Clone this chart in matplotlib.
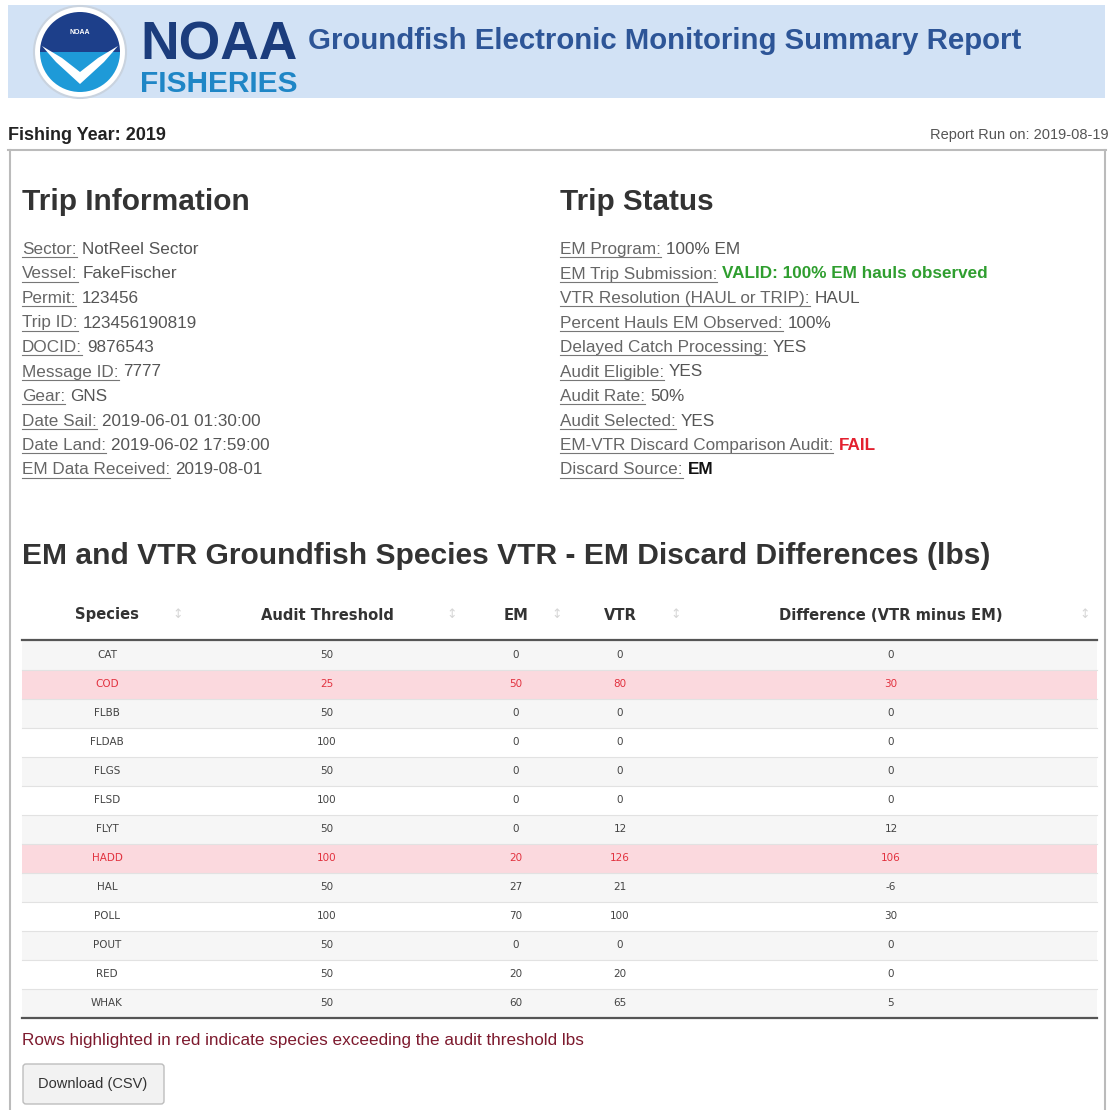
import matplotlib.pyplot as plt
from matplotlib.patches import Rectangle, Circle, Wedge, FancyBboxPatch, Polygon

species = ['CAT', 'COD', 'FLBB', 'FLDAB', 'FLGS', 'FLSD', 'FLYT', 'HADD', 'HAL', 'POLL', 'POUT', 'RED', 'WHAK']
audit_threshold = [50, 25, 50, 100, 50, 100, 50, 100, 50, 100, 50, 50, 50]
em_discards = [0, 50, 0, 0, 0, 0, 0, 20, 27, 70, 0, 20, 60]
vtr_discards = [0, 80, 0, 0, 0, 0, 12, 126, 21, 100, 0, 20, 65]
difference = [0, 30, 0, 0, 0, 0, 12, 106, -6, 30, 0, 0, 5]

table_columns = ['Species', 'Audit Threshold', 'EM', 'VTR', 'Difference (VTR minus EM)']

trip_info_labels = ['Sector:', 'Vessel:', 'Permit:', 'Trip ID:', 'DOCID:', 'Message ID:', 'Gear:',
                    'Date Sail:', 'Date Land:', 'EM Data Received:']
trip_info_values = ['NotReel Sector', 'FakeFischer', '123456', '123456190819', '9876543', '7777', 'GNS',
                    '2019-06-01 01:30:00', '2019-06-02 17:59:00', '2019-08-01']

status_labels = ['EM Program:', 'EM Trip Submission:', 'VTR Resolution (HAUL or TRIP):',
                 'Percent Hauls EM Observed:', 'Delayed Catch Processing:', 'Audit Eligible:',
                 'Audit Rate:', 'Audit Selected:', 'EM-VTR Discard Comparison Audit:', 'Discard Source:']
status_values = ['100% EM', 'VALID: 100% EM hauls observed', 'HAUL', '100%', 'YES', 'YES',
                 '50%', 'YES', 'FAIL', 'EM']

fishing_year = 2019
report_run = '2019-08-19'

SANS = ['Liberation Sans', 'DejaVu Sans']
GRAY = '#555555'

fig = plt.figure(figsize=(11.1, 11.1), dpi=100)
ax = fig.add_axes([0, 0, 1, 1])
ax.set_xlim(0, 1110)
ax.set_ylim(1110, 0)
ax.axis('off')
renderer = fig.canvas.get_renderer()


def text_width(t):
    bb = t.get_window_extent(renderer=renderer)
    return bb.width


def fit_text(x, y, s, width, **kw):
    t = ax.text(x, y, s, **kw)
    w = text_width(t)
    t.set_fontsize(t.get_fontsize() * width / w)
    return t


# header band and logo
ax.add_patch(Rectangle((8, 5), 1097, 93, facecolor='#d2e2f5', edgecolor='none'))
ax.add_patch(Circle((80, 52), 46, facecolor='#ffffff', edgecolor='#c9d3df', lw=1.5))
ax.add_patch(Wedge((80, 52), 40, 180, 360, facecolor='#1d3f8a', edgecolor='none'))
ax.add_patch(Wedge((80, 52), 40, 0, 180, facecolor='#1e9ad8', edgecolor='none'))
ax.add_patch(Polygon([[42, 46], [62, 58], [80, 72], [98, 58], [118, 46], [104, 62], [80, 84], [56, 62]],
                     closed=True, facecolor='white', edgecolor='none'))
ax.text(80, 33, 'NOAA', color='white', fontsize=5, fontweight='bold', ha='center', va='center', family=SANS)

fit_text(140, 60, 'NOAA', 157, color='#1b3c7c', fontsize=40, fontweight='bold', va='baseline', family=SANS)
fit_text(140, 92, 'FISHERIES', 157, color='#1f86c6', fontsize=30, fontweight='bold', va='baseline', family=SANS)
fit_text(308, 49, 'Groundfish Electronic Monitoring Summary Report', 712, color='#2d5597',
         fontsize=20, fontweight='bold', va='baseline', family=SANS)

ax.text(8, 135, 'Fishing Year: %d' % fishing_year, fontsize=13, fontweight='bold', color='#222222',
        va='center', family=SANS)
ax.text(1109, 135, 'Report Run on: %s' % report_run, fontsize=10.5, color=GRAY, ha='right', va='center',
        family=SANS)

# content box
ax.plot([8, 1106], [150, 150], color='#bbbbbb', lw=1.5)
ax.plot([10, 10], [150, 1110], color='#bbbbbb', lw=1.5)
ax.plot([1105, 1105], [150, 1110], color='#bbbbbb', lw=1.5)

fit_text(22, 210, 'Trip Information', 227, fontsize=21, fontweight='bold', color='#333333',
         va='baseline', family=SANS)
fit_text(560, 210, 'Trip Status', 153, fontsize=21, fontweight='bold', color='#333333',
         va='baseline', family=SANS)


def info_line(x, y, label, value, color=GRAY, weight='normal'):
    t = ax.text(x, y, label, fontsize=12.3, color='#666666', va='baseline', family=SANS)
    w = text_width(t)
    ax.plot([x, x + w], [y + 3, y + 3], color='#777777', lw=0.8)
    ax.text(x + w + 5, y, value, fontsize=12.3, color=color, fontweight=weight, va='baseline', family=SANS)


row_y = [254 + 24.5 * i for i in range(len(trip_info_labels))]
for i, (lab, val) in enumerate(zip(trip_info_labels, trip_info_values)):
    info_line(22, row_y[i], lab, val)

status_colors = {'VALID: 100% EM hauls observed': '#2f9e2f', 'FAIL': '#e3202f', 'EM': '#111111'}
for i, (lab, val) in enumerate(zip(status_labels, status_values)):
    c = status_colors.get(val, GRAY)
    wt = 'bold' if val in status_colors else 'normal'
    info_line(560, row_y[i], lab, val, color=c, weight=wt)

fit_text(22, 564, 'EM and VTR Groundfish Species VTR - EM Discard Differences (lbs)', 968,
         fontsize=21, fontweight='bold', color='#333333', va='baseline', family=SANS)

# table
col_x = [107, 327, 516, 620, 891]
sort_x = [178, 452, 557, 676, 1085]
for name, cx, sx in zip(table_columns, col_x, sort_x):
    ax.text(cx, 615, name, fontsize=10.6, fontweight='bold', color='#333333', ha='center', va='center',
            family='DejaVu Sans')
    ax.text(sx, 615, '\u2195', fontsize=9, color='#d6d6d6', ha='center', va='center', family='DejaVu Sans')
ax.plot([22, 1097], [640, 640], color='#555555', lw=1.6)

row_h = 29
for i, sp in enumerate(species):
    cy = 655 + i * row_h
    flagged = abs(difference[i]) > audit_threshold[i]
    if flagged:
        bg = '#fbd9de'
    elif i % 2 == 0:
        bg = '#f6f6f6'
    else:
        bg = '#ffffff'
    ax.add_patch(Rectangle((22, cy - row_h / 2), 1075, row_h, facecolor=bg, edgecolor='none'))
    if i > 0:
        ax.plot([22, 1097], [cy - row_h / 2, cy - row_h / 2], color='#e2e2e2', lw=0.8)
    color = '#e2323f' if flagged else '#444444'
    cells = [sp, audit_threshold[i], em_discards[i], vtr_discards[i], difference[i]]
    for cx, val in zip(col_x, cells):
        ax.text(cx, cy, str(val), fontsize=7.5, color=color, ha='center', va='center', family='DejaVu Sans')

bottom = 655 + len(species) * row_h - row_h / 2
ax.plot([22, 1097], [bottom, bottom], color='#555555', lw=1.6)

ax.text(22, 1041, 'Rows highlighted in red indicate species exceeding the audit threshold lbs',
        fontsize=12.3, color='#7d1a2e', va='center', family=SANS)

ax.add_patch(FancyBboxPatch((23, 1064), 141, 40, boxstyle='round,pad=0,rounding_size=3',
                            facecolor='#f2f2f2', edgecolor='#bdbdbd', lw=1))
ax.text(93, 1084, 'Download (CSV)', fontsize=10.5, color='#333333', ha='center', va='center', family=SANS)

plt.savefig('out.png', dpi=100)
